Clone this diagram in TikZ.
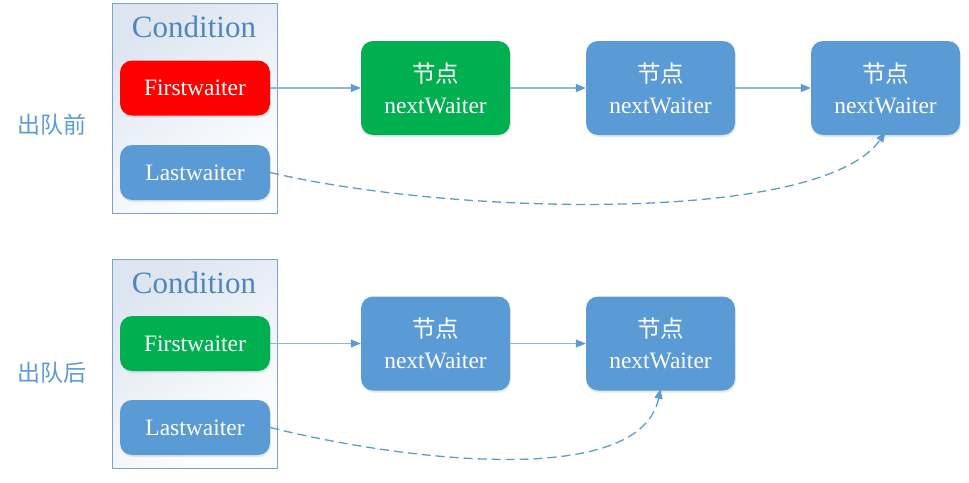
\documentclass[tikz,border=0pt]{standalone}
\usepackage{fontspec}
\setmainfont{Liberation Serif}
\newfontfamily\cjk{Noto Sans CJK SC}
\usetikzlibrary{arrows.meta,shadows}
\definecolor{myblue}{HTML}{5B9BD5}
\definecolor{myred}{HTML}{FF0000}
\definecolor{mygreen}{HTML}{00B050}
\definecolor{lineblue}{HTML}{8DB4E2}
\definecolor{condtop}{HTML}{DDE5F1}
\definecolor{condborder}{HTML}{7BA3D0}
\definecolor{condtext}{HTML}{4F86C0}
\tikzset{
  box/.style={rounded corners=12pt, minimum width=150pt, minimum height=55pt, inner sep=0pt,
    text=white, font=\fontsize{23.5}{26}\selectfont,
    drop shadow={opacity=0.18, shadow xshift=0.8pt, shadow yshift=-2pt}},
  nodebox/.style={box, minimum width=149pt, minimum height=94pt, align=center,
    font=\fontsize{23.5}{31}\selectfont, fill=myblue},
  condbox/.style={draw=condborder, line width=0.9pt, top color=condtop, bottom color=white, shading angle=35,
    minimum width=165pt, inner sep=0pt},
  condtitle/.style={text=condtext, font=\fontsize{31}{34}\selectfont},
  sidelabel/.style={text=myblue, font=\cjk\fontsize{23}{26}\selectfont},
  link/.style={draw=lineblue, line width=1.2pt, -{Triangle[length=10pt,width=8pt,color=myblue]}},
  dlink/.style={draw=myblue, line width=1.3pt, dash pattern=on 9pt off 5pt, -{Triangle[length=10pt,width=8pt]}},
}
\begin{document}
\begin{tikzpicture}[x=1pt,y=-1pt]
\useasboundingbox (0,0) rectangle (969,482);
% condition boxes
\node[condbox, minimum height=210pt] (c1) at (194.5,108) {};
\node[condbox, minimum height=209pt] (c2) at (194.5,363.5) {};
\node[condtitle] (t1) at (194,27) {Condition};
\node[condtitle] (t2) at (194,283) {Condition};
% side labels
\node[sidelabel] (l1) at (52,125) {出队前};
\node[sidelabel] (l2) at (52,373) {出队后};
% top row
\node[box, fill=myred] (f1) at (195,88) {Firstwaiter};
\node[box, fill=myblue] (w1) at (195,172.5) {Lastwaiter};
\node[nodebox, fill=mygreen] (a1) at (435.5,88) {{\cjk 节点}\\nextWaiter};
\node[nodebox] (a2) at (660.5,88) {{\cjk 节点}\\nextWaiter};
\node[nodebox] (a3) at (885.5,88) {{\cjk 节点}\\nextWaiter};
% bottom row
\node[box, fill=mygreen] (f2) at (195,343.5) {Firstwaiter};
\node[box, fill=myblue] (w2) at (195,427.5) {Lastwaiter};
\node[nodebox] (b1) at (435.5,343.5) {{\cjk 节点}\\nextWaiter};
\node[nodebox] (b2) at (660.5,343.5) {{\cjk 节点}\\nextWaiter};
% connectors
\draw[link] (f1.east) -- (a1.west);
\draw[link] (a1.east) -- (a2.west);
\draw[link] (a2.east) -- (a3.west);
\draw[link] (f2.east) -- (b1.west);
\draw[link] (b1.east) -- (b2.west);
\draw[dlink] (w1.east) .. controls (450,215) and (820,225) .. ([yshift=3pt]a3.south);
\draw[dlink] (w2.east) .. controls (400,460) and (640,490) .. ([yshift=2pt]b2.south);
\end{tikzpicture}
\end{document}
